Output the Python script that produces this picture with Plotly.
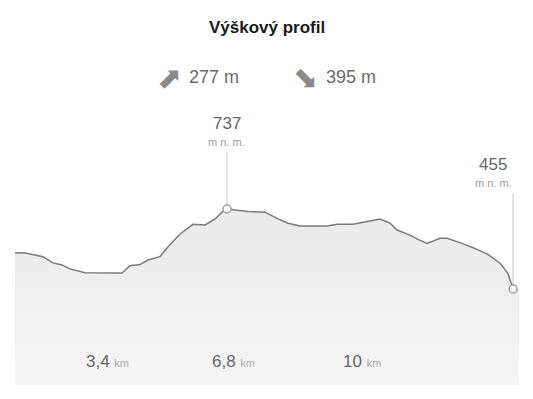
import plotly.graph_objects as go

# Elevation profile (distance in km, elevation in m n. m.)
dist_km = [0.00, 0.27, 0.76, 1.00, 1.27, 1.48, 1.89, 2.89, 3.10, 3.37, 3.59, 3.91,
           4.13, 4.45, 4.80, 5.13, 5.40, 5.59, 5.72, 5.94, 6.29, 6.75, 7.07, 7.37,
           7.69, 8.42, 8.69, 9.12, 9.58, 9.85, 9.98, 10.12, 10.31, 10.66, 10.87,
           11.12, 11.47, 11.66, 12.06, 12.41, 12.76, 13.09, 13.30, 13.44]
elev_m = [583, 582, 569, 548, 540, 526, 512, 511, 537, 541, 557, 569,
          604, 648, 683, 681, 702, 727, 737, 734, 728, 726, 704, 687,
          677, 677, 683, 683, 695, 702, 695, 687, 663, 645, 630,
          616, 634, 634, 616, 598, 577, 546, 510, 455]

tick_vals = [3.4, 6.8, 10.2]
tick_labels = ["3,4", "6,8", "10"]

title_text = "Výškový profil"
ascent_m = 277
descent_m = 395

x_range = [0, 13.6]
y_range = [116.6, 1121.3]

FONT = "Liberation Sans, Arial, Helvetica, sans-serif"

peak_i = elev_m.index(max(elev_m))
end_i = len(elev_m) - 1

fig = go.Figure()

# filled area (extends to the right edge of the plot)
fig.add_trace(go.Scatter(
    x=dist_km + [x_range[1]], y=elev_m + [elev_m[-1]],
    mode="none", fill="tozeroy",
    fillgradient=dict(type="vertical",
                      colorscale=[[0, "rgba(0,0,0,0.03)"], [1, "rgba(0,0,0,0.085)"]]),
    hoverinfo="skip", showlegend=False))

# profile line
fig.add_trace(go.Scatter(
    x=dist_km, y=elev_m, mode="lines",
    line=dict(color="#7a7a7a", width=1.5),
    hoverinfo="skip", showlegend=False))

# marker circles
fig.add_trace(go.Scatter(
    x=[dist_km[peak_i], dist_km[end_i]], y=[elev_m[peak_i], elev_m[end_i]],
    mode="markers",
    marker=dict(size=8, color="white", line=dict(color="#a0a0a0", width=1.5)),
    hoverinfo="skip", showlegend=False))

shapes = []
for i, top_px in [(peak_i, 57), (end_i, 96)]:
    shapes.append(dict(type="line", xref="x", yref="y", ysizemode="pixel",
                       yanchor=elev_m[i], x0=dist_km[i], x1=dist_km[i],
                       y0=4, y1=top_px, line=dict(color="#d0d0d0", width=1.2),
                       layer="below"))

annotations = []
# peak / end labels
for i, top_px, xs in [(peak_i, 57, 0), (end_i, 96, -20)]:
    annotations.append(dict(
        x=dist_km[i], y=elev_m[i], xref="x", yref="y",
        text=f"{elev_m[i]}", showarrow=False, xanchor="center", yanchor="bottom",
        xshift=xs, yshift=top_px + 17,
        font=dict(family=FONT, size=17, color="#666")))
    annotations.append(dict(
        x=dist_km[i], y=elev_m[i], xref="x", yref="y",
        text="m n. m.", showarrow=False, xanchor="center", yanchor="bottom",
        xshift=xs, yshift=top_px + 2,
        font=dict(family=FONT, size=11, color="#9a9a9a")))

# distance labels
for v, t in zip(tick_vals, tick_labels):
    annotations.append(dict(
        x=v, y=0, xref="x", yref="y domain",
        text=f"{t} <span style='font-size:11px;color:#a8a8a8'>km</span>",
        showarrow=False, xanchor="right", yanchor="bottom",
        xshift=-10, yshift=12,
        font=dict(family=FONT, size=17, color="#666")))

# title
annotations.append(dict(
    x=0.5, y=1, xref="paper", yref="paper", yshift=0,
    text=f"<b>{title_text}</b>", showarrow=False, xanchor="center", yanchor="bottom",
    font=dict(family=FONT, size=17, color="#1a1a1a")))

# ascent / descent
annotations.append(dict(
    x=0, y=0, xref="paper", yref="paper", showarrow=False,
    text="⬈", xanchor="center", yanchor="middle",
    font=dict(family="DejaVu Sans", size=30, color="#8a8a8a")))
annotations.append(dict(
    x=0, y=0, xref="paper", yref="paper", showarrow=False,
    text=f"{ascent_m} m", xanchor="left", yanchor="middle",
    font=dict(family=FONT, size=18, color="#6a6a6a")))
annotations.append(dict(
    x=0, y=0, xref="paper", yref="paper", showarrow=False,
    text="⬊", xanchor="center", yanchor="middle",
    font=dict(family="DejaVu Sans", size=30, color="#8a8a8a")))
annotations.append(dict(
    x=0, y=0, xref="paper", yref="paper", showarrow=False,
    text=f"{descent_m} m", xanchor="left", yanchor="middle",
    font=dict(family=FONT, size=18, color="#6a6a6a")))

W, H = 533, 399
ml, mr, mt, mb = 15, 14, 100, 14
pw, ph = W - ml - mr, H - mt - mb

def paper_xy(px, py):
    return (px - ml) / pw, (H - mb - py) / ph

# place title and stats by page position
title_ann = annotations[-5]
tx, ty = paper_xy(267, 27)
title_ann.update(x=tx, y=ty, yanchor="middle")
for ann, (px, py) in zip(annotations[-4:], [(169, 77), (187, 77), (305, 77), (324, 77)]):
    ax_, ay_ = paper_xy(px, py)
    ann.update(x=ax_, y=ay_)

fig.update_layout(
    width=W, height=H,
    margin=dict(l=ml, r=mr, t=mt, b=mb, pad=0),
    paper_bgcolor="white", plot_bgcolor="white",
    showlegend=False,
    shapes=shapes, annotations=annotations,
    xaxis=dict(range=x_range, showgrid=True, gridcolor="rgba(255,255,255,1)",
               gridwidth=2, tickvals=tick_vals, showticklabels=False,
               zeroline=False, showline=False, ticks="", fixedrange=True),
    yaxis=dict(range=y_range, showgrid=False, showticklabels=False,
               zeroline=False, showline=False, ticks="", fixedrange=True),
)

fig.write_html("out.html", config={"displayModeBar": False})
